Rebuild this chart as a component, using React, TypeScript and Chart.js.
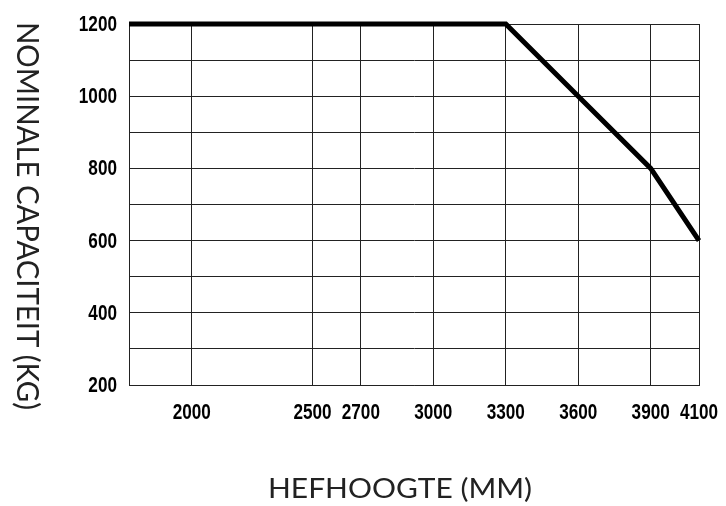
import React, { useEffect, useRef } from 'react';
import { Chart, registerables } from 'chart.js';

Chart.register(...registerables);

// Data
const lineHeights = [1740, 3300, 3600, 3900, 4100];
const lineCapacity = [1200, 1200, 1000, 800, 600];
const xTickValues = [2000, 2500, 2700, 3000, 3300, 3600, 3900, 4100];
const yLabelValues = [200, 400, 600, 800, 1000, 1200];
const xTitle = 'HEFHOOGTE (MM)';
const yTitle = 'NOMINALE CAPACITEIT (KG)';

const W = 726;
const H = 506;

const TICK_FONT = 'bold 22px "Liberation Sans", Arial, sans-serif';
const TICK_SCALE = 0.78;

const labelPlugin = {
  id: 'axisLabels',
  afterDraw(chart: any) {
    const ctx = chart.ctx as CanvasRenderingContext2D;
    const xs = chart.scales.x;
    const ys = chart.scales.y;
    ctx.save();
    // tick labels (condensed)
    ctx.fillStyle = '#000';
    ctx.font = TICK_FONT;
    ctx.textBaseline = 'middle';
    ctx.textAlign = 'right';
    yLabelValues.forEach((v) => {
      const y = ys.getPixelForValue(v);
      ctx.save();
      ctx.translate(xs.left - 12, y + 1);
      ctx.scale(TICK_SCALE, 1);
      ctx.fillText(String(v), 0, 0);
      ctx.restore();
    });
    ctx.textAlign = 'center';
    xTickValues.forEach((v) => {
      const x = xs.getPixelForValue(v);
      ctx.save();
      ctx.translate(x, ys.bottom + 28);
      ctx.scale(TICK_SCALE, 1);
      ctx.fillText(String(v), 0, 0);
      ctx.restore();
    });

    // axis titles
    ctx.fillStyle = '#222';
    ctx.font = '400 26px Lato, "Open Sans", sans-serif';
    ctx.textAlign = 'center';
    ctx.textBaseline = 'alphabetic';
    {
      const w = ctx.measureText(xTitle).width;
      const sx = 264 / w;
      ctx.save();
      ctx.translate(400, 498);
      ctx.scale(sx, 1);
      ctx.fillText(xTitle, 0, 0);
      ctx.restore();
    }
    ctx.font = '400 31px Lato, "Open Sans", sans-serif';
    {
      const w = ctx.measureText(yTitle).width;
      const sx = 388 / w;
      ctx.save();
      ctx.translate(17, 216);
      ctx.rotate(Math.PI / 2);
      ctx.scale(sx, 1);
      ctx.fillText(yTitle, 0, 0);
      ctx.restore();
    }
    ctx.restore();
  },
};

export default function App() {
  const ref = useRef<HTMLCanvasElement | null>(null);

  useEffect(() => {
    if (!ref.current) return;
    const chart = new Chart(ref.current, {
      type: 'line',
      data: {
        datasets: [
          {
            data: lineHeights.map((x, i) => ({ x, y: lineCapacity[i] })),
            borderColor: '#000',
            borderWidth: 5,
            pointRadius: 0,
            tension: 0,
            fill: false,
            clip: false as any,
            borderJoinStyle: 'miter',
          },
        ],
      },
      options: {
        responsive: false,
        animation: false,
        layout: { padding: { top: 24, right: 27, left: 0, bottom: 0 } },
        plugins: { legend: { display: false }, tooltip: { enabled: false } },
        scales: {
          x: {
            type: 'linear',
            min: 1740,
            max: 4100,
            afterBuildTicks: (scale: any) => {
              scale.ticks = xTickValues.map((v) => ({ value: v }));
            },
            afterFit: (scale: any) => {
              scale.height = 121;
              scale.paddingLeft = 0;
              scale.paddingRight = 0;
            },
            grid: { color: '#222', lineWidth: 1, tickLength: 0, drawTicks: false },
            border: { display: true, color: '#222', width: 1 },
            ticks: { display: false, autoSkip: false },
          },
          y: {
            type: 'linear',
            min: 200,
            max: 1200,
            afterFit: (scale: any) => {
              scale.width = 129;
              scale.paddingTop = 0;
              scale.paddingBottom = 0;
            },
            grid: { color: '#222', lineWidth: 1, tickLength: 0, drawTicks: false },
            border: { display: true, color: '#222', width: 1 },
            ticks: { display: false, stepSize: 100, autoSkip: false },
          },
        },
      },
      plugins: [labelPlugin],
    });
    return () => chart.destroy();
  }, []);

  return (
    <div style={{ position: 'fixed', left: 0, top: 0, width: W, height: H, background: '#fff' }}>
      <canvas ref={ref} width={W} height={H} />
    </div>
  );
}
